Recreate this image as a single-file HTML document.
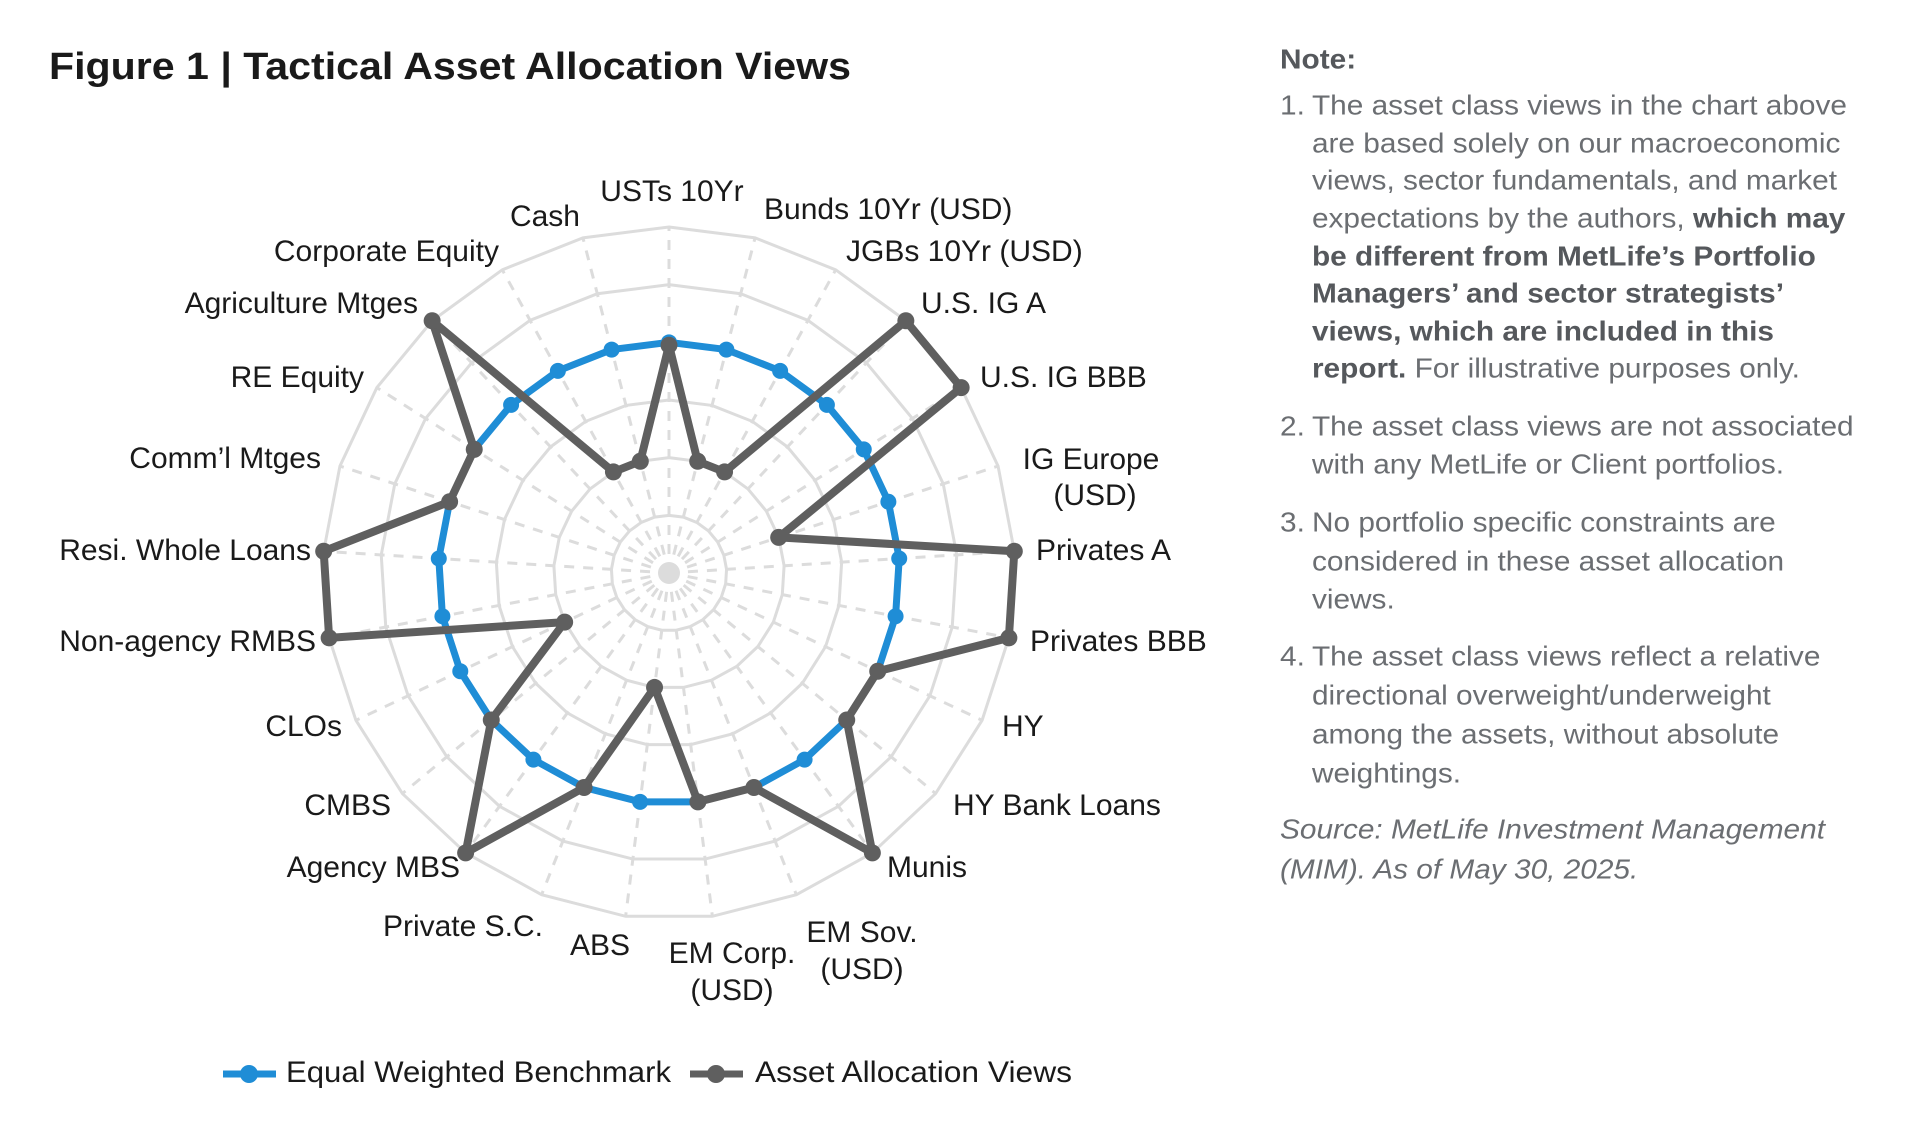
<!DOCTYPE html>
<html><head><meta charset="utf-8"><style>
html,body{margin:0;padding:0;background:#fff;width:1913px;height:1135px;overflow:hidden}
svg{display:block}
.lb{font-family:"Liberation Sans",sans-serif;font-size:30px;fill:#1a1a1a}
.nt{font-family:"Liberation Sans",sans-serif;font-size:28px;fill:#6b6e72}
.nb{font-weight:bold;fill:#55585c}
</style></head><body>
<svg id="s" width="1913" height="1135" xmlns="http://www.w3.org/2000/svg">
<text x="49" y="79" font-family="Liberation Sans,sans-serif" font-weight="bold" font-size="38" fill="#1a1a1a" textLength="802" lengthAdjust="spacingAndGlyphs">Figure 1 | Tactical Asset Allocation Views</text>
<g id="grid"></g>
<g id="data"></g>
<g class="lb" dominant-baseline="middle">
<text x="672" y="193" text-anchor="middle">USTs 10Yr</text>
<text x="764" y="211">Bunds 10Yr (USD)</text>
<text x="846" y="253">JGBs 10Yr (USD)</text>
<text x="921" y="305">U.S. IG A</text>
<text x="980" y="379">U.S. IG BBB</text>
<text x="1091" y="461" text-anchor="middle">IG Europe</text>
<text x="1095" y="497" text-anchor="middle">(USD)</text>
<text x="1036" y="552">Privates A</text>
<text x="1030" y="643">Privates BBB</text>
<text x="1002" y="728">HY</text>
<text x="953" y="807">HY Bank Loans</text>
<text x="887" y="869">Munis</text>
<text x="862" y="934" text-anchor="middle">EM Sov.</text>
<text x="862" y="971" text-anchor="middle">(USD)</text>
<text x="732" y="955" text-anchor="middle">EM Corp.</text>
<text x="732" y="992" text-anchor="middle">(USD)</text>
<text x="600" y="947" text-anchor="middle">ABS</text>
<text x="543" y="928" text-anchor="end">Private S.C.</text>
<text x="460" y="869" text-anchor="end">Agency MBS</text>
<text x="391" y="807" text-anchor="end">CMBS</text>
<text x="342" y="728" text-anchor="end">CLOs</text>
<text x="316" y="643" text-anchor="end">Non-agency RMBS</text>
<text x="311" y="552" text-anchor="end">Resi. Whole Loans</text>
<text x="321" y="460" text-anchor="end">Comm’l Mtges</text>
<text x="364" y="379" text-anchor="end">RE Equity</text>
<text x="418" y="305" text-anchor="end">Agriculture Mtges</text>
<text x="499" y="253" text-anchor="end">Corporate Equity</text>
<text x="580" y="218" text-anchor="end">Cash</text>
</g>
<g>
<line x1="223" y1="1074" x2="276" y2="1074" stroke="#1f8dd6" stroke-width="7"/>
<circle cx="249" cy="1074" r="9" fill="#1f8dd6"/>
<text x="286" y="1074" class="lb" dominant-baseline="middle" textLength="385" lengthAdjust="spacingAndGlyphs">Equal Weighted Benchmark</text>
<line x1="690" y1="1074" x2="743" y2="1074" stroke="#5f5f5f" stroke-width="7"/>
<circle cx="716" cy="1074" r="9" fill="#5f5f5f"/>
<text x="755" y="1074" class="lb" dominant-baseline="middle" textLength="317" lengthAdjust="spacingAndGlyphs">Asset Allocation Views</text>
</g>
<g class="nt" dominant-baseline="middle" transform="translate(1280 0) scale(1.065 1) translate(-1280 0)">
<text x="1280" y="61" class="nb">Note:</text>
<text x="1280" y="107">1.</text>
<text x="1310" y="107">The asset class views in the chart above</text>
<text x="1310" y="145">are based solely on our macroeconomic</text>
<text x="1310" y="182">views, sector fundamentals, and market</text>
<text x="1310" y="220">expectations by the authors, <tspan class="nb">which may</tspan></text>
<text x="1310" y="258" class="nb">be different from MetLife’s Portfolio</text>
<text x="1310" y="295" class="nb">Managers’ and sector strategists’</text>
<text x="1310" y="333" class="nb">views, which are included in this</text>
<text x="1310" y="370"><tspan class="nb">report.</tspan> For illustrative purposes only.</text>
<text x="1280" y="428">2.</text>
<text x="1310" y="428">The asset class views are not associated</text>
<text x="1310" y="466">with any MetLife or Client portfolios.</text>
<text x="1280" y="524">3.</text>
<text x="1310" y="524">No portfolio specific constraints are</text>
<text x="1310" y="563">considered in these asset allocation</text>
<text x="1310" y="601">views.</text>
<text x="1280" y="658">4.</text>
<text x="1310" y="658">The asset class views reflect a relative</text>
<text x="1310" y="697">directional overweight/underweight</text>
<text x="1310" y="736">among the assets, without absolute</text>
<text x="1310" y="775">weightings.</text>
<text x="1280" y="831" font-style="italic">Source: MetLife Investment Management</text>
<text x="1280" y="871" font-style="italic">(MIM). As of May 30, 2025.</text>
</g>
</svg>
<script>
(function(){
var NS="http://www.w3.org/2000/svg",cx=669,cy=573,R=346,N=25,L=6,st=R/L;
function pt(i,v){var a=(i*360/N)*Math.PI/180;return [cx+Math.sin(a)*v*st,cy-Math.cos(a)*v*st];}
function el(t,at,p){var e=document.createElementNS(NS,t);for(var k in at)e.setAttribute(k,at[k]);p.appendChild(e);return e;}
var g=document.getElementById('grid'),d=document.getElementById('data');
for(var i=0;i<N;i++){var p=pt(i,6);el('line',{x1:cx,y1:cy,x2:p[0],y2:p[1],stroke:'#dcdcdc','stroke-width':3,'stroke-dasharray':'10 9'},g);}
for(var l=1;l<=L;l++){var s=[];for(var i=0;i<N;i++){s.push(pt(i,l).join(','));}el('polygon',{points:s.join(' '),fill:'none',stroke:'#dcdcdc','stroke-width':3},g);}
el('circle',{cx:cx,cy:cy,r:11,fill:'#dcdcdc'},g);
function series(vals,col,w,r){var s=[];for(var i=0;i<N;i++)s.push(pt(i,vals[i]).join(','));
el('polygon',{points:s.join(' '),fill:'none',stroke:col,'stroke-width':w,'stroke-linejoin':'round'},d);
for(var i=0;i<N;i++){var p=pt(i,vals[i]);el('circle',{cx:p[0],cy:p[1],r:r,fill:col},d);}}
var b=[];for(var i=0;i<N;i++)b.push(4);
series(b,'#1f8dd6',7,8);
series([3.95,2,2,6,6,2,6,6,4,4,6,4,4,2,4,6,4,2,6,6,4,4,6,2,2],'#5f5f5f',8,8.5);
})();
</script>
</body></html>
